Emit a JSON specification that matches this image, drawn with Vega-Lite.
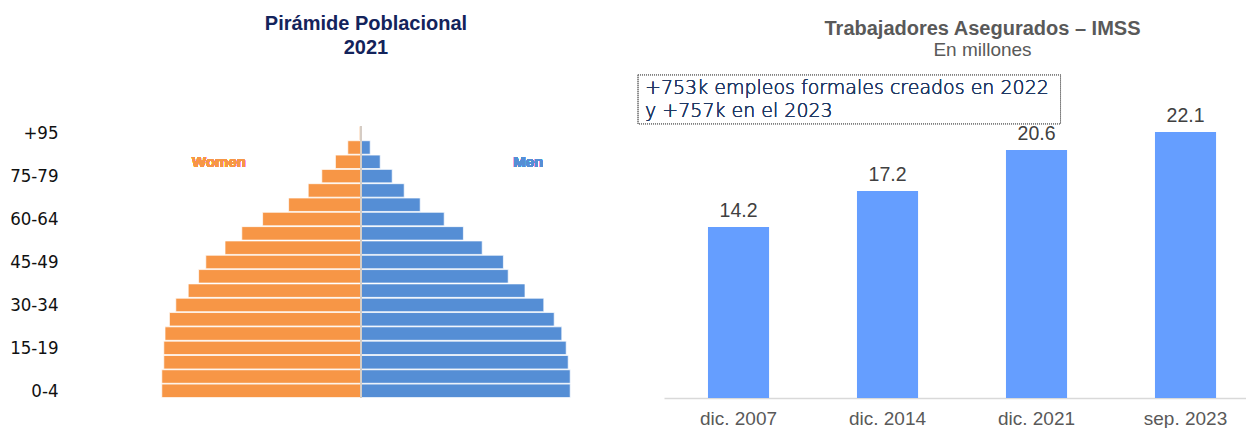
{
  "$schema": "https://vega.github.io/schema/vega-lite/v6.json",
  "padding": {"left": 9, "top": 13, "right": 0, "bottom": 0},
  "background": "white",
  "spacing": 63,
  "bounds": "flush",
  "config": {"view": {"stroke": null}, "font": "Liberation Sans"},
  "datasets": {
    "pyramid": [
      {"age": "0-4", "sex": "Women", "pop": -4.98}, {"age": "0-4", "sex": "Men", "pop": 5.23},
      {"age": "5-9", "sex": "Women", "pop": -4.98}, {"age": "5-9", "sex": "Men", "pop": 5.23},
      {"age": "10-14", "sex": "Women", "pop": -4.93}, {"age": "10-14", "sex": "Men", "pop": 5.18},
      {"age": "15-19", "sex": "Women", "pop": -4.93}, {"age": "15-19", "sex": "Men", "pop": 5.13},
      {"age": "20-24", "sex": "Women", "pop": -4.9}, {"age": "20-24", "sex": "Men", "pop": 5.02},
      {"age": "25-29", "sex": "Women", "pop": -4.79}, {"age": "25-29", "sex": "Men", "pop": 4.83},
      {"age": "30-34", "sex": "Women", "pop": -4.63}, {"age": "30-34", "sex": "Men", "pop": 4.57},
      {"age": "35-39", "sex": "Women", "pop": -4.32}, {"age": "35-39", "sex": "Men", "pop": 4.1},
      {"age": "40-44", "sex": "Women", "pop": -4.06}, {"age": "40-44", "sex": "Men", "pop": 3.68},
      {"age": "45-49", "sex": "Women", "pop": -3.88}, {"age": "45-49", "sex": "Men", "pop": 3.56},
      {"age": "50-54", "sex": "Women", "pop": -3.4}, {"age": "50-54", "sex": "Men", "pop": 3.03},
      {"age": "55-59", "sex": "Women", "pop": -2.98}, {"age": "55-59", "sex": "Men", "pop": 2.56},
      {"age": "60-64", "sex": "Women", "pop": -2.46}, {"age": "60-64", "sex": "Men", "pop": 2.08},
      {"age": "65-69", "sex": "Women", "pop": -1.81}, {"age": "65-69", "sex": "Men", "pop": 1.48},
      {"age": "70-74", "sex": "Women", "pop": -1.32}, {"age": "70-74", "sex": "Men", "pop": 1.08},
      {"age": "75-79", "sex": "Women", "pop": -0.98}, {"age": "75-79", "sex": "Men", "pop": 0.78},
      {"age": "80-84", "sex": "Women", "pop": -0.64}, {"age": "80-84", "sex": "Men", "pop": 0.48},
      {"age": "85-89", "sex": "Women", "pop": -0.33}, {"age": "85-89", "sex": "Men", "pop": 0.23},
      {"age": "+95", "sex": "Women", "pop": -0.04}, {"age": "+95", "sex": "Men", "pop": 0.0}
    ],
    "imss": [
      {"periodo": "dic. 2007", "trabajadores": 14.2},
      {"periodo": "dic. 2014", "trabajadores": 17.2},
      {"periodo": "dic. 2021", "trabajadores": 20.6},
      {"periodo": "sep. 2023", "trabajadores": 22.1}
    ]
  },
  "hconcat": [
    {
      "width": 540,
      "height": 272,
      "title": {"text": ["Pirámide Poblacional", "2021"], "fontSize": 20, "font": "Liberation Sans", "fontWeight": "bold", "color": "#13235B", "lineHeight": 24, "dx": 35, "offset": 66, "anchor": "middle"},
      "data": {"name": "pyramid"},
      "layer": [
        {
          "mark": {"type": "bar", "stroke": "white", "strokeWidth": 1, "strokeOpacity": 0.7},
          "encoding": {
            "y": {
              "field": "age", "type": "ordinal",
              "sort": ["+95", "85-89", "80-84", "75-79", "70-74", "65-69", "60-64", "55-59", "50-54", "45-49", "40-44", "35-39", "30-34", "25-29", "20-24", "15-19", "10-14", "5-9", "0-4"],
              "scale": {"paddingInner": 0.06, "paddingOuter": 0.03},
              "axis": {"title": null, "values": ["0-4", "15-19", "30-34", "45-49", "60-64", "75-79", "+95"], "ticks": false, "domain": false, "labelFont": "DejaVu Sans Condensed", "labelFontSize": 18.5, "labelColor": "#111111", "labelPadding": 3}
            },
            "x": {"field": "pop", "type": "quantitative", "scale": {"domain": [-7.5, 6], "nice": false, "zero": false}, "axis": null},
            "color": {"field": "sex", "type": "nominal", "scale": {"domain": ["Women", "Men"], "range": ["#F79646", "#558ED5"]}, "legend": null}
          }
        },
        {
          "mark": {"type": "rule", "color": "#D6CCC4", "strokeWidth": 1.3},
          "encoding": {"x": {"datum": 0}}
        },
        {
          "mark": {"type": "text", "text": "Women", "font": "Liberation Sans", "fontWeight": "bold", "fontSize": 15, "color": "#F79646", "baseline": "middle"},
          "encoding": {"x": {"datum": -3.55}, "y": {"datum": "80-84"}}
        },
        {
          "mark": {"type": "text", "text": "Men", "font": "Liberation Sans", "fontWeight": "bold", "fontSize": 15, "color": "#558ED5", "baseline": "middle"},
          "encoding": {"x": {"datum": 4.18}, "y": {"datum": "80-84"}}
        }
      ]
    },
    {
      "width": 583,
      "height": 272,
      "title": {"text": "Trabajadores Asegurados – IMSS", "subtitle": "En millones", "fontSize": 20, "fontWeight": "bold", "font": "Liberation Sans", "color": "#595959", "subtitleFontSize": 19, "subtitleFont": "Liberation Sans", "subtitleColor": "#595959", "subtitlePadding": 2, "dx": 27, "offset": 14, "anchor": "middle"},
      "data": {"name": "imss"},
      "layer": [
        {
          "mark": {"type": "bar", "color": "#659EFF"},
          "encoding": {
            "x": {"field": "periodo", "type": "nominal", "sort": null, "scale": {"paddingInner": 0.59, "paddingOuter": 0.2514, "align": 0.587},
                  "axis": {"title": null, "labelAngle": 0, "ticks": false, "domainColor": "#D9D9D9", "domainWidth": 1.5, "labelFontSize": 19, "labelColor": "#595959", "labelPadding": 11, "labelFont": "Liberation Sans"}},
            "y": {"field": "trabajadores", "type": "quantitative", "scale": {"domain": [0, 22.6], "nice": false}, "axis": null}
          }
        },
        {
          "mark": {"type": "text", "fontSize": 19.5, "dy": -10, "baseline": "alphabetic", "color": "#404040", "font": "Liberation Sans"},
          "encoding": {
            "x": {"field": "periodo", "type": "nominal", "sort": null},
            "y": {"field": "trabajadores", "type": "quantitative"},
            "text": {"field": "trabajadores", "type": "quantitative", "format": ".1f"}
          }
        },
        {
          "mark": {"type": "rect", "fill": "transparent", "stroke": "#7F7F7F", "strokeDash": [1, 1], "strokeWidth": 1, "xOffset": -100.5, "x2Offset": 24},
          "encoding": {"x": {"datum": "dic. 2007"}, "x2": {"datum": "dic. 2021"}, "y": {"datum": 26.85}, "y2": {"datum": 22.78}}
        },
        {
          "mark": {"type": "text", "text": ["+753k empleos formales creados en 2022", "y +757k en el 2023"], "align": "left", "baseline": "middle", "lineHeight": 23, "font": "DejaVu Sans", "fontWeight": 200, "fontSize": 19, "color": "#1F3864", "xOffset": -93.5},
          "encoding": {"x": {"datum": "dic. 2007"}, "y": {"datum": 25.77}}
        }
      ]
    }
  ]
}
